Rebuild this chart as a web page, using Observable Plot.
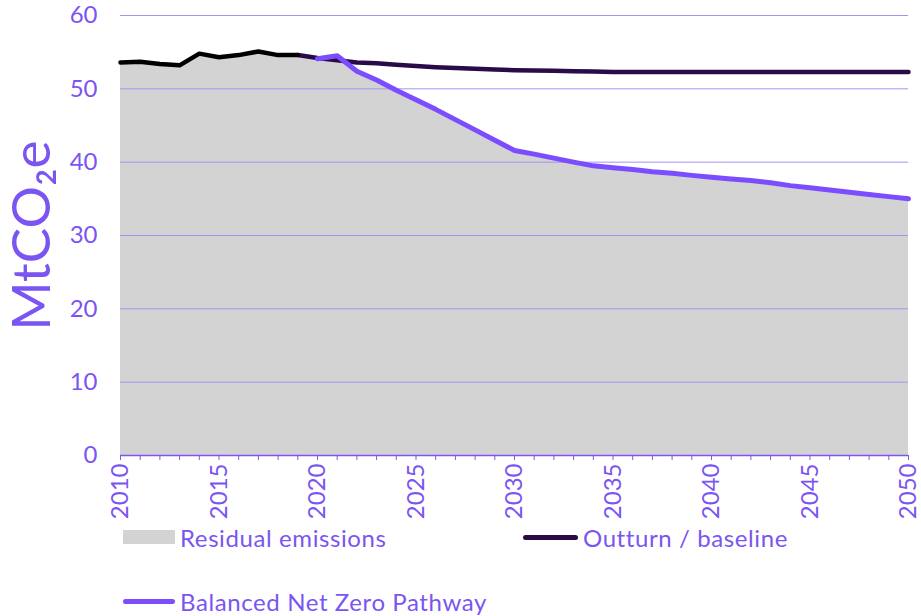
<!DOCTYPE html>
<html>
<head>
<meta charset="utf-8">
<script src="https://cdn.jsdelivr.net/npm/d3@7"></script>
<script src="https://cdn.jsdelivr.net/npm/@observablehq/plot@0.6"></script>
<style>
  html, body { margin: 0; padding: 0; background: #fff; }
  #wrap { position: relative; width: 921px; height: 616px; font-family: Lato, "Open Sans", sans-serif; color: #7b55f2; }
  .leg { position: absolute; display: flex; align-items: center; font-size: 24px; letter-spacing: 0.6px; white-space: nowrap; }
  .sw { display: inline-block; margin-right: 5px; }
</style>
</head>
<body>
<div id="wrap"></div>
<script>
// ---- data ----
const outturnYears = [2010, 2011, 2012, 2013, 2014, 2015, 2016, 2017, 2018, 2019];
const outturnValues = [53.6, 53.7, 53.4, 53.2, 54.8, 54.3, 54.6, 55.1, 54.6, 54.6];

const baselineYears = d3.range(2019, 2051);
const baselineValues = [54.6, 54.2, 53.9, 53.6, 53.5, 53.3, 53.1, 52.95, 52.85, 52.75, 52.65, 52.55, 52.5, 52.45, 52.4, 52.35,
  52.3, 52.3, 52.3, 52.3, 52.3, 52.3, 52.3, 52.3, 52.3, 52.3, 52.3, 52.3, 52.3, 52.3, 52.3, 52.3];

const bnzYears = d3.range(2020, 2051);
const bnzValues = [54.1, 54.5, 52.4, 51.2, 49.8, 48.5, 47.2, 45.8, 44.4, 43.0, 41.6, 41.1, 40.55, 40.0, 39.5,
  39.25, 39.0, 38.7, 38.5, 38.2, 37.95, 37.7, 37.5, 37.2, 36.8, 36.5, 36.2, 35.9, 35.6, 35.3, 35.0];

const yTicks = [0, 10, 20, 30, 40, 50, 60];
const xTickYears = d3.range(2010, 2051);
const seriesNames = ["Residual emissions", "Outturn / baseline", "Balanced Net Zero Pathway"];
const yLabel = "MtCO₂e";

// ---- tables ----
const outturn = outturnYears.map((year, i) => ({year, value: outturnValues[i]}));
const baseline = baselineYears.map((year, i) => ({year, value: baselineValues[i]}));
const bnz = bnzYears.map((year, i) => ({year, value: bnzValues[i]}));
const residual = outturn.concat(bnz);

const purple = "#7b55f2";
const gridColor = "#a791f0";
const darkLine = "#2a0b48";
const bnzColor = "#7c4dff";
const grey = "#d3d3d3";

const chart = Plot.plot({
  width: 921,
  height: 520,
  marginLeft: 120,
  marginRight: 13,
  marginTop: 15,
  marginBottom: 65,
  style: {fontFamily: "Lato, 'Open Sans', sans-serif", fontSize: "23px", color: purple, background: "white", overflow: "visible"},
  x: {domain: [2010, 2050]},
  y: {domain: [0, 60]},
  marks: [
    Plot.areaY(residual, {x: "year", y: "value", fill: grey}),
    Plot.ruleY(yTicks.filter(d => d > 0), {stroke: gridColor, strokeWidth: 1}),
    Plot.ruleY([0], {stroke: purple, strokeWidth: 1.5}),
    Plot.axisX({ticks: xTickYears, tickSize: 5, tickPadding: 3, tickRotate: -90,
      tickFormat: d => d % 5 === 0 ? String(d) : "", fontSize: 24, label: null, stroke: purple, fill: purple}),
    Plot.axisY({ticks: yTicks, tickSize: 0, tickPadding: 23, fontSize: 24, label: null, fill: purple}),
    Plot.line(baseline, {x: "year", y: "value", stroke: darkLine, strokeWidth: 4.5}),
    Plot.line(outturn, {x: "year", y: "value", stroke: "#000", strokeWidth: 4.5}),
    Plot.line(bnz, {x: "year", y: "value", stroke: bnzColor, strokeWidth: 5}),
    Plot.text([yLabel], {frameAnchor: "left", textAnchor: "middle", dx: -87, rotate: -90, fontSize: 53, fill: purple, text: d => d})
  ]
});

const wrap = document.getElementById("wrap");
wrap.appendChild(chart);

const legendItems = [
  {name: seriesNames[0], left: 123, top: 537, sw: {w: 52, h: 14, bg: grey}},
  {name: seriesNames[1], left: 523, top: 537, sw: {w: 55, h: 5, bg: darkLine}},
  {name: seriesNames[2], left: 123, top: 601, sw: {w: 52, h: 5, bg: bnzColor}}
];
for (const it of legendItems) {
  const d = document.createElement("div");
  d.className = "leg";
  d.style.left = it.left + "px";
  d.style.top = (it.top - 14) + "px";
  d.style.height = "28px";
  const s = document.createElement("span");
  s.className = "sw";
  s.style.width = it.sw.w + "px";
  s.style.height = it.sw.h + "px";
  s.style.background = it.sw.bg;
  s.style.borderRadius = it.sw.h < 10 ? "3px" : "0";
  d.appendChild(s);
  const t = document.createElement("span");
  t.textContent = it.name;
  d.appendChild(t);
  wrap.appendChild(d);
}
</script>
</body>
</html>
